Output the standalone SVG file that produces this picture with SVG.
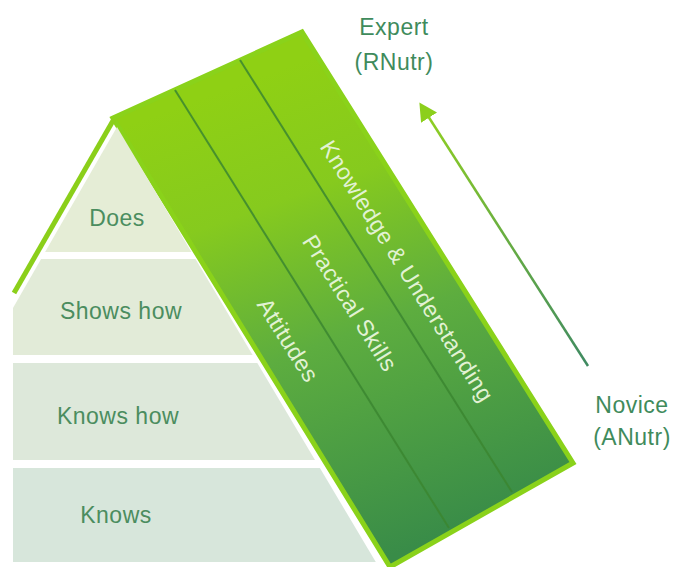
<svg xmlns="http://www.w3.org/2000/svg" width="675" height="567" viewBox="0 0 675 567">
  <style>
    .lbl { font-family: "Liberation Sans", Arial, sans-serif; font-size: 23px; letter-spacing: 0.5px; text-anchor: middle; }
    .tier-t { fill: #4b8d5f; }
    .side-t { fill: #3f8b5c; }
    .roof-t { fill: #e2f2d4; }
    .div { stroke: #3b8630; stroke-width: 2; stroke-opacity: 0.85; fill: none; }
  </style>
  <defs>
    <linearGradient id="roofGrad" gradientUnits="userSpaceOnUse" x1="250" y1="80" x2="420" y2="545">
      <stop offset="0" stop-color="#8fd014"/>
      <stop offset="0.25" stop-color="#86ca1e"/>
      <stop offset="0.55" stop-color="#5dad3f"/>
      <stop offset="1" stop-color="#398c48"/>
    </linearGradient>
    <linearGradient id="arrowGrad" gradientUnits="userSpaceOnUse" x1="428" y1="116" x2="588" y2="366">
      <stop offset="0" stop-color="#8fcf22"/>
      <stop offset="1" stop-color="#3f8a62"/>
    </linearGradient>
    <marker id="head" markerUnits="userSpaceOnUse" markerWidth="18" markerHeight="19" viewBox="0 0 18 19" refX="2" refY="9.5" orient="auto">
      <path d="M0,0 L18,9.5 L0,19 z" fill="#8ccf1c"/>
    </marker>
  </defs>
  <rect width="675" height="567" fill="#ffffff"/>

  <g id="roof">
    <polygon points="113,118 302,32 573,463 390,567" fill="url(#roofGrad)" stroke="#8ad21a" stroke-width="5" stroke-linejoin="miter"/>
    <line class="div" x1="175" y1="90" x2="449" y2="528"/>
    <line class="div" x1="240" y1="60" x2="512" y2="492"/>
  </g>

  <g id="left-edge">
    <line x1="114" y1="119" x2="14" y2="293" stroke="#8bcf1a" stroke-width="5"/>
  </g>

  <g id="tier-does">
    <polygon points="117,127 191.4,252 45.1,252" fill="#e5edd6"/>
    <text class="lbl tier-t" x="117" y="226">Does</text>
  </g>
  <g id="tier-shows-how">
    <polygon points="41.1,259 195.5,259 252.6,355 13,355 13,307.9" fill="#e2ebd8"/>
    <text class="lbl tier-t" x="121" y="319">Shows how</text>
  </g>
  <g id="tier-knows-how">
    <polygon points="13,363 257.3,363 315,460 13,460" fill="#dde8da"/>
    <text class="lbl tier-t" x="118" y="424">Knows how</text>
  </g>
  <g id="tier-knows">
    <polygon points="13,468 319.9,468 375.8,562 13,562" fill="#d7e6db"/>
    <text class="lbl tier-t" x="116" y="523">Knows</text>
  </g>

  <g id="strip-knowledge">
    <text class="lbl roof-t" transform="translate(407,271) rotate(57.8)" x="0" y="8">Knowledge &amp; Understanding</text>
  </g>
  <g id="strip-practical">
    <text class="lbl roof-t" transform="translate(350,303) rotate(57.8)" x="0" y="8">Practical Skills</text>
  </g>
  <g id="strip-attitudes">
    <text class="lbl roof-t" transform="translate(288,340) rotate(57.8)" x="0" y="8">Attitudes</text>
  </g>

  <g id="expert">
    <text class="lbl side-t" x="394" y="35">Expert</text>
    <text class="lbl side-t" x="394" y="70">(RNutr)</text>
  </g>
  <g id="novice">
    <text class="lbl side-t" x="632" y="413">Novice</text>
    <text class="lbl side-t" x="632" y="445">(ANutr)</text>
  </g>

  <g id="connectors">
    <line x1="588" y1="366" x2="428" y2="116" stroke="url(#arrowGrad)" stroke-width="2.5" marker-end="url(#head)"/>
  </g>
</svg>
